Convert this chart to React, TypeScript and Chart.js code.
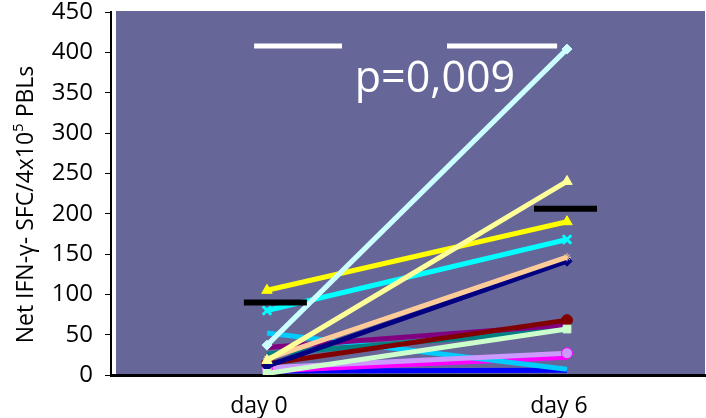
import { useEffect, useRef } from "react";
import { Chart, registerables } from "chart.js";

Chart.register(...registerables);

// ---- data ----
const categories = ["day 0", "day 6"];
const yTickValues = [0, 50, 100, 150, 200, 250, 300, 350, 400, 450];

const lightCyan = [37, 404];
const lightGreen = [2, 57];
const lightYellow = [18, 240];
const yellow = [105, 190];
const cyan = [80, 168];
const peach = [20, 146];
const navy = [11, 141];
const darkRed = [14, 68];
const lightPurple = [9, 27];
const purple = [34, 62];
const teal = [26, 56];
const skyBlue = [52, 7];
const magenta = [5, 22];
const blue = [5, 6];

const groupMeans = [90, 206];
const significanceLevel = 408;
const pValueText = "p=0,009";
const yTitleMain = "Net IFN-\u03B3- SFC/4x10";
const yTitleSup = "5";
const yTitleRest = " PBLs";

// ---- styles ----
type Style = { color: string; marker: string | false; radius: number; edge?: string };
const seriesList: { values: number[]; style: Style }[] = [
  { values: lightCyan, style: { color: "#CCFFFF", marker: "rectRot", radius: 5 } },
  { values: lightGreen, style: { color: "#CCFFCC", marker: "rect", radius: 5.5 } },
  { values: lightYellow, style: { color: "#FFFF99", marker: "triangle", radius: 6 } },
  { values: yellow, style: { color: "#FFFF00", marker: "triangle", radius: 6 } },
  { values: cyan, style: { color: "#00FFFF", marker: "crossRot", radius: 6 } },
  { values: peach, style: { color: "#FFCC99", marker: "star", radius: 4 } },
  { values: navy, style: { color: "#000080", marker: "rectRot", radius: 5 } },
  { values: darkRed, style: { color: "#800000", marker: "circle", radius: 5.5 } },
  { values: lightPurple, style: { color: "#CC99FF", marker: "circle", radius: 5.5, edge: "#FF00FF" } },
  { values: purple, style: { color: "#800080", marker: false, radius: 0 } },
  { values: teal, style: { color: "#008080", marker: false, radius: 0 } },
  { values: skyBlue, style: { color: "#00CCFF", marker: false, radius: 0 } },
  { values: magenta, style: { color: "#FF00FF", marker: false, radius: 0 } },
  { values: blue, style: { color: "#0000FF", marker: false, radius: 0 } },
];

const FONT = '"Open Sans", "DejaVu Sans", sans-serif';
const MEAN_HALF = 0.105;
const MEAN_SHIFT = [0.028, -0.005];
const SIG_SPANS = [
  [-0.043, 0.25],
  [0.6, 0.967],
];
// canvas is slightly wider than the page; Chart.js reserves ~9px of overflow room on the right
const CANVAS_W = 714;
const CANVAS_H = 418;

const bgPlugin = {
  id: "plotBg",
  beforeDraw(chart: any) {
    const { ctx, chartArea } = chart;
    const { left, top, right, bottom } = chartArea;
    ctx.save();
    ctx.fillStyle = "#666699";
    ctx.fillRect(left + 5, top - 1, right - left - 5, bottom - top + 1);
    ctx.restore();
  },
};

const textPlugin = {
  id: "texts",
  afterDraw(chart: any) {
    const { ctx, chartArea, scales } = chart;
    const xs = scales.x;
    const ys = scales.y;
    ctx.save();
    ctx.fillStyle = "#FFFFFF";
    ctx.font = `43px ${FONT}`;
    ctx.textAlign = "center";
    ctx.textBaseline = "alphabetic";
    ctx.fillText(pValueText, xs.getPixelForValue(0.56), ys.getPixelForValue(351));
    ctx.restore();

    // y-axis title
    ctx.save();
    const cx = 26;
    const cy = (chartArea.top + chartArea.bottom) / 2 + 11;
    ctx.translate(cx, cy);
    ctx.rotate(-Math.PI / 2);
    ctx.fillStyle = "#000000";
    ctx.textBaseline = "middle";
    ctx.textAlign = "left";
    const mainFont = `23px ${FONT}`;
    const supFont = `15px ${FONT}`;
    ctx.font = mainFont;
    const w1 = ctx.measureText(yTitleMain).width;
    const w3 = ctx.measureText(yTitleRest).width;
    ctx.font = supFont;
    const w2 = ctx.measureText(yTitleSup).width;
    let x0 = -(w1 + w2 + w3) / 2;
    ctx.font = mainFont;
    ctx.fillText(yTitleMain, x0, 0);
    x0 += w1;
    ctx.font = supFont;
    ctx.fillText(yTitleSup, x0, -7);
    x0 += w2;
    ctx.font = mainFont;
    ctx.fillText(yTitleRest, x0, 0);
    ctx.restore();
  },
};

export default function App() {
  const ref = useRef<HTMLCanvasElement | null>(null);

  useEffect(() => {
    if (!ref.current) return;
    const lineSets = seriesList.map((s) => ({
      data: s.values.map((v, i) => ({ x: i, y: v })),
      borderColor: s.style.color,
      backgroundColor: s.style.color,
      borderWidth: 5,
      pointStyle: s.style.marker || "circle",
      pointRadius: s.style.radius,
      pointHoverRadius: s.style.radius,
      pointBackgroundColor: s.style.color,
      pointBorderColor: s.style.edge || s.style.color,
      pointBorderWidth: s.style.marker === "crossRot" ? 3 : 1,
      tension: 0,
      order: 0,
    }));
    const meanSets = groupMeans.map((m, i) => ({
      data: [
        { x: i + MEAN_SHIFT[i] - MEAN_HALF, y: m },
        { x: i + MEAN_SHIFT[i] + MEAN_HALF, y: m },
      ],
      borderColor: "#000000",
      borderWidth: 6,
      pointRadius: 0,
      pointHoverRadius: 0,
      order: -1,
    }));
    const sigSets = SIG_SPANS.map((sp) => ({
      data: [
        { x: sp[0], y: significanceLevel },
        { x: sp[1], y: significanceLevel },
      ],
      borderColor: "#FFFFFF",
      borderWidth: 5,
      pointRadius: 0,
      pointHoverRadius: 0,
      order: -1,
    }));

    const chart = new Chart(ref.current, {
      type: "line",
      data: { datasets: [...meanSets, ...sigSets, ...lineSets] as any },
      options: {
        animation: false,
        responsive: false,
        devicePixelRatio: 1,
        layout: { padding: { top: 12, right: 0, left: 0, bottom: 0 } },
        plugins: { legend: { display: false }, tooltip: { enabled: false } },
        scales: {
          x: {
            type: "linear",
            min: -0.52,
            max: 1.46,
            afterBuildTicks: (s: any) => {
              s.ticks = categories.map((_, i) => ({ value: i }));
            },
            afterFit: (s: any) => {
              s.height = 43;
              s.paddingLeft = 0;
              s.paddingRight = 0;
            },
            ticks: {
              callback: (v: any) => categories[v as number] ?? "",
              font: { family: FONT, size: 23 },
              color: "#000000",
              padding: 18,
              labelOffset: -8,
              maxRotation: 0,
              autoSkip: false,
            },
            grid: { display: true, drawOnChartArea: false, drawTicks: false, color: "rgba(0,0,0,0)" },
            border: { display: true, color: "#000000", width: 3 },
          },
          y: {
            type: "linear",
            min: 0,
            max: 450,
            afterBuildTicks: (s: any) => {
              s.ticks = yTickValues.map((v) => ({ value: v }));
            },
            afterFit: (s: any) => {
              s.width = 111;
              s.paddingTop = 0;
              s.paddingBottom = 0;
            },
            ticks: {
              font: { family: FONT, size: 24 },
              color: "#000000",
              padding: 12,
            },
            grid: { display: true, drawOnChartArea: false, drawTicks: true, tickLength: 6, color: "#000000", lineWidth: 1 },
            border: { display: true, color: "#000000", width: 2 },
          },
        },
      },
      plugins: [bgPlugin, textPlugin],
    });
    return () => chart.destroy();
  }, []);

  return (
    <div style={{ position: "absolute", left: 0, top: 0, width: 706, height: 418, overflow: "hidden", background: "#FFFFFF" }}>
      <canvas ref={ref} width={CANVAS_W} height={CANVAS_H} style={{ display: "block" }} />
    </div>
  );
}
